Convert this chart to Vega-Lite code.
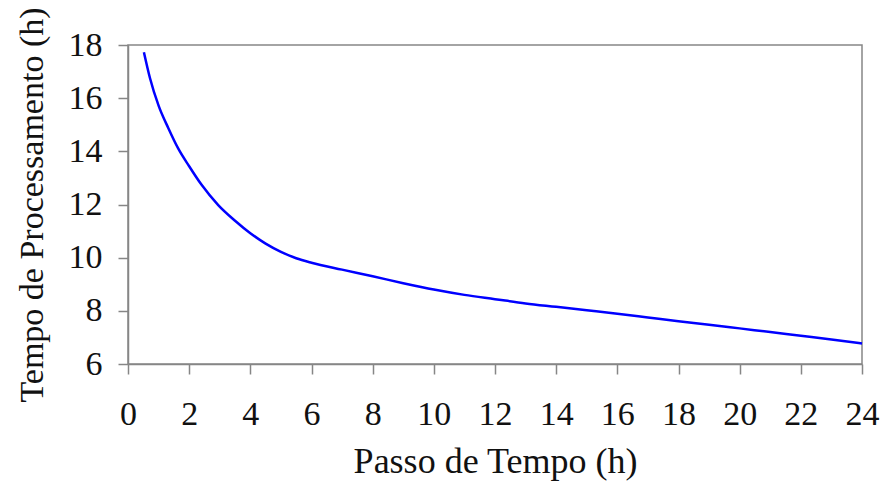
{
  "$schema": "https://vega.github.io/schema/vega-lite/v6.json",
  "autosize": {"type": "none"},
  "width": 734,
  "height": 319,
  "padding": {"left": 128, "top": 45, "right": 18, "bottom": 117},
  "background": "white",
  "config": {
    "view": {"stroke": "#868686", "strokeWidth": 1.5},
    "font": "Liberation Serif",
    "axis": {
      "grid": false,
      "labelFlush": false,
      "domainColor": "#868686",
      "domainWidth": 1.5,
      "tickColor": "#868686",
      "tickWidth": 1.5,
      "tickSize": 10,
      "labelFont": "Liberation Serif",
      "labelFontSize": 34,
      "labelColor": "#111111",
      "titleFont": "Liberation Serif",
      "titleFontSize": 36,
      "titleFontWeight": "normal",
      "titleColor": "#111111"
    }
  },
  "data": {
    "values": [
      {"passo": 0.52, "tempo": 17.73},
      {"passo": 0.72, "tempo": 16.75},
      {"passo": 1.0, "tempo": 15.72},
      {"passo": 1.32, "tempo": 14.87},
      {"passo": 1.64, "tempo": 14.11},
      {"passo": 2.0, "tempo": 13.44},
      {"passo": 2.4, "tempo": 12.75},
      {"passo": 2.95, "tempo": 11.98},
      {"passo": 3.5, "tempo": 11.39},
      {"passo": 4.0, "tempo": 10.92},
      {"passo": 4.5, "tempo": 10.53},
      {"passo": 5.0, "tempo": 10.22},
      {"passo": 5.5, "tempo": 9.98},
      {"passo": 6.0, "tempo": 9.81},
      {"passo": 7.0, "tempo": 9.55},
      {"passo": 8.0, "tempo": 9.3},
      {"passo": 9.0, "tempo": 9.04},
      {"passo": 10.0, "tempo": 8.8},
      {"passo": 11.0, "tempo": 8.6},
      {"passo": 12.0, "tempo": 8.44},
      {"passo": 13.0, "tempo": 8.28},
      {"passo": 14.0, "tempo": 8.15},
      {"passo": 15.0, "tempo": 8.02},
      {"passo": 16.0, "tempo": 7.89},
      {"passo": 17.0, "tempo": 7.75},
      {"passo": 18.0, "tempo": 7.61},
      {"passo": 19.0, "tempo": 7.48},
      {"passo": 20.0, "tempo": 7.34},
      {"passo": 21.0, "tempo": 7.2},
      {"passo": 22.0, "tempo": 7.06},
      {"passo": 23.0, "tempo": 6.92},
      {"passo": 24.0, "tempo": 6.77}
    ]
  },
  "mark": {"type": "line", "color": "#0000ff", "strokeWidth": 2.5, "interpolate": "monotone"},
  "encoding": {
    "x": {
      "field": "passo",
      "type": "quantitative",
      "scale": {"domain": [0, 24], "nice": false, "zero": false},
      "axis": {"values": [0, 2, 4, 6, 8, 10, 12, 14, 16, 18, 20, 22, 24], "title": "Passo de Tempo (h)", "labelPadding": 23, "titlePadding": 13}
    },
    "y": {
      "field": "tempo",
      "type": "quantitative",
      "scale": {"domain": [6, 18], "nice": false, "zero": false},
      "axis": {"values": [6, 8, 10, 12, 14, 16, 18], "title": "Tempo de Processamento (h)", "titleFontSize": 34, "labelPadding": 16, "titlePadding": 19}
    }
  }
}
